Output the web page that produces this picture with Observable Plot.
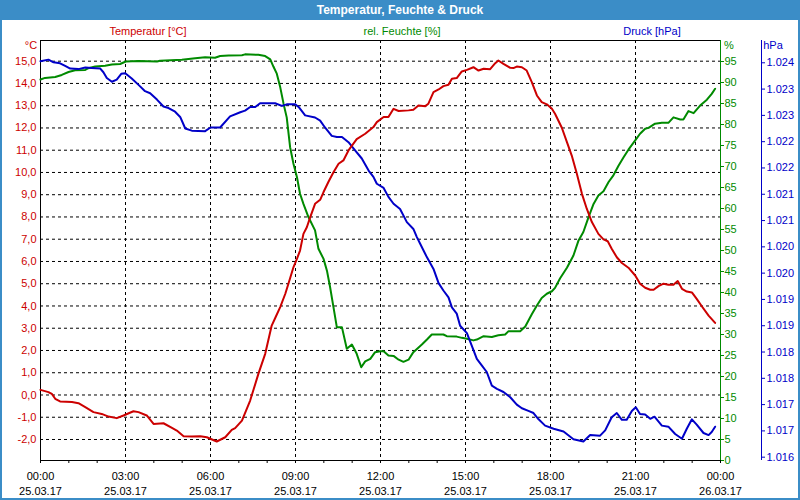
<!DOCTYPE html>
<html><head><meta charset="utf-8">
<script src="https://cdn.jsdelivr.net/npm/d3@7"></script>
<script src="https://cdn.jsdelivr.net/npm/@observablehq/plot@0.6"></script>
<style>
html,body{margin:0;padding:0;background:#fff;}
#wrap{position:relative;width:800px;height:500px;background:#fff;font-family:"Liberation Sans",Arial,sans-serif;overflow:hidden;}
#title{position:absolute;left:0;top:0;width:800px;height:20px;background:#3b8dc7;color:#fff;font-weight:bold;font-size:12px;text-align:center;line-height:20px;}
#body{position:absolute;left:0;top:20px;width:800px;height:480px;border:2px solid #3b8dc7;border-top:none;box-sizing:border-box;}
#body svg{display:block;}
.lbl{position:absolute;font-size:11px;white-space:nowrap;line-height:1;transform:translate(-50%,-50%);}
</style>
</head><body>
<div id="wrap">
  <div id="title">Temperatur, Feuchte &amp; Druck</div>
  <div id="body"></div>
</div>
<script>
// ---- data (hours since 25.03.17 00:00) ----
const tempHours = [0.00,0.28,0.40,0.52,0.69,1.11,1.34,1.58,1.87,2.16,2.40,2.69,2.93,3.28,3.46,3.75,3.99,4.34,4.64,4.81,5.05,5.34,5.64,5.87,6.22,6.52,6.75,6.87,7.11,7.40,7.69,7.93,8.16,8.28,8.46,8.64,8.75,8.93,9.05,9.16,9.28,9.40,9.52,9.69,9.87,9.99,10.16,10.34,10.52,10.69,10.87,11.16,11.46,11.75,11.87,12.11,12.28,12.46,12.64,12.99,13.16,13.34,13.58,13.69,13.87,14.05,14.22,14.40,14.52,14.69,14.87,15.05,15.28,15.46,15.64,15.87,16.05,16.16,16.34,16.58,16.69,16.81,16.99,17.16,17.34,17.52,17.69,17.87,18.05,18.16,18.40,18.58,18.75,18.93,19.11,19.28,19.46,19.69,19.87,20.02,20.16,20.34,20.52,20.75,20.99,21.16,21.34,21.52,21.64,21.81,21.99,22.16,22.34,22.49,22.64,22.81,22.99,23.16,23.34,23.58,23.81];
const tempValues = [0.23,0.13,0.05,-0.17,-0.29,-0.32,-0.37,-0.55,-0.77,-0.85,-0.97,-1.04,-0.92,-0.73,-0.77,-0.92,-1.30,-1.27,-1.48,-1.60,-1.85,-1.87,-1.85,-1.90,-2.09,-1.90,-1.57,-1.49,-1.15,-0.25,0.95,1.85,3.12,3.45,3.95,4.55,5.00,5.75,6.12,6.49,7.24,7.54,7.99,8.59,8.77,9.12,9.57,10.01,10.39,10.54,10.99,11.50,11.74,12.04,12.26,12.49,12.49,12.86,12.76,12.79,12.82,13.01,12.98,13.09,13.61,13.73,13.88,13.94,14.21,14.24,14.54,14.61,14.73,14.58,14.66,14.64,14.91,15.03,14.88,14.70,14.69,14.76,14.73,14.58,14.06,13.46,13.16,13.06,12.86,12.64,12.01,11.36,10.76,9.94,9.04,8.37,7.77,7.24,6.99,6.91,6.57,6.19,5.93,5.72,5.37,5.00,4.82,4.73,4.73,4.89,5.00,4.95,4.95,5.12,4.77,4.65,4.61,4.32,3.99,3.57,3.24];

const humHours = [0.00,0.16,0.52,0.75,0.99,1.22,1.58,1.69,1.93,2.28,2.52,2.81,3.01,3.46,4.11,4.22,4.99,5.46,5.81,6.16,6.34,6.64,7.11,7.22,7.69,7.93,8.11,8.22,8.34,8.46,8.58,8.69,8.81,8.93,9.05,9.16,9.28,9.46,9.69,9.81,9.99,10.11,10.22,10.34,10.46,10.64,10.81,10.99,11.16,11.32,11.46,11.64,11.81,11.99,12.11,12.28,12.46,12.64,12.81,12.99,13.16,13.46,13.64,13.81,14.22,14.34,14.69,14.87,15.05,15.28,15.40,15.64,15.93,16.16,16.40,16.52,16.93,17.11,17.34,17.52,17.69,17.87,18.05,18.16,18.34,18.58,18.81,18.99,19.16,19.34,19.52,19.69,19.87,20.05,20.22,20.40,20.58,20.75,20.99,21.16,21.34,21.46,21.69,21.93,22.16,22.34,22.58,22.69,22.87,23.05,23.28,23.52,23.69,23.81];
const humValues = [90.7,91.1,91.3,91.8,92.5,92.9,93.0,93.4,93.8,94.0,94.3,94.4,95.0,95.1,95.0,95.2,95.4,95.8,96.0,95.9,96.3,96.4,96.5,96.7,96.6,96.3,95.5,93.8,92.1,88.9,84.9,81.7,74.6,70.6,67.5,63.5,61.1,57.9,54.8,50.4,48.0,45.2,41.3,36.5,31.7,31.7,26.6,27.6,25.4,22.2,23.6,24.2,25.8,26.0,26.0,25.0,24.9,24.0,23.5,24.0,25.8,27.6,28.8,30.0,30.0,29.6,29.5,29.2,29.0,28.6,28.8,29.6,29.4,29.8,30.0,30.8,30.8,31.9,34.8,36.9,38.7,39.7,40.3,41.1,43.4,45.9,48.8,52.4,54.4,57.9,61.1,63.1,64.1,66.3,67.9,70.2,72.2,74.0,76.2,77.8,79.0,79.2,80.2,80.4,80.4,81.7,81.2,81.2,83.2,82.7,84.5,85.9,87.3,88.5];

const presHours = [0.00,0.28,0.46,0.69,0.87,1.05,1.34,1.58,1.81,2.11,2.22,2.34,2.52,2.69,2.85,2.99,3.22,3.46,3.69,3.87,4.11,4.34,4.52,4.75,4.93,5.11,5.34,5.81,6.00,6.34,6.69,7.05,7.22,7.40,7.58,7.75,8.28,8.52,8.69,8.99,9.11,9.34,9.69,9.87,10.04,10.28,10.46,10.64,10.87,11.11,11.34,11.58,11.75,11.87,12.11,12.28,12.46,12.69,12.93,13.16,13.28,13.40,13.64,13.87,14.05,14.22,14.40,14.52,14.69,14.81,15.05,15.22,15.40,15.58,15.75,15.93,16.11,16.34,16.58,16.81,16.99,17.22,17.40,17.58,17.81,18.11,18.46,18.81,19.16,19.40,19.75,19.93,20.16,20.34,20.52,20.69,20.87,21.01,21.16,21.34,21.52,21.67,21.93,22.16,22.40,22.64,22.81,22.99,23.16,23.40,23.58,23.69,23.81];
const presValues = [1023.53,1023.56,1023.51,1023.49,1023.44,1023.39,1023.38,1023.41,1023.40,1023.39,1023.32,1023.21,1023.14,1023.18,1023.29,1023.30,1023.20,1023.08,1022.96,1022.92,1022.80,1022.67,1022.64,1022.57,1022.47,1022.25,1022.21,1022.20,1022.27,1022.27,1022.48,1022.56,1022.59,1022.66,1022.66,1022.73,1022.73,1022.68,1022.71,1022.71,1022.66,1022.50,1022.46,1022.40,1022.27,1022.11,1022.09,1022.09,1021.99,1021.83,1021.68,1021.45,1021.33,1021.20,1021.12,1020.95,1020.82,1020.72,1020.47,1020.34,1020.19,1020.06,1019.80,1019.58,1019.31,1019.17,1019.04,1018.85,1018.73,1018.50,1018.36,1018.12,1017.87,1017.74,1017.62,1017.36,1017.30,1017.24,1017.14,1017.00,1016.93,1016.88,1016.84,1016.72,1016.60,1016.54,1016.49,1016.34,1016.30,1016.42,1016.41,1016.51,1016.76,1016.84,1016.71,1016.71,1016.88,1016.95,1016.82,1016.81,1016.73,1016.77,1016.60,1016.58,1016.44,1016.35,1016.54,1016.72,1016.62,1016.46,1016.42,1016.48,1016.58];

// ---- ticks & labels ----
const xLabelHours = [0,3,6,9,12,15,18,21,24];
const xTimeLabels = ["00:00","03:00","06:00","09:00","12:00","15:00","18:00","21:00","00:00"];
const xDateLabels = ["25.03.17","25.03.17","25.03.17","25.03.17","25.03.17","25.03.17","25.03.17","25.03.17","26.03.17"];
const xMinorHours = [0,1,2,3,4,5,6,7,8,9,10,11,12,13,14,15,16,17,18,19,20,21,22,23,24];
const xGridHours = [3,6,9,12,15,18,21];
const tempTicks = [-2,-1,0,1,2,3,4,5,6,7,8,9,10,11,12,13,14,15];
const tempTickLabels = ["-2,0","-1,0","0,0","1,0","2,0","3,0","4,0","5,0","6,0","7,0","8,0","9,0","10,0","11,0","12,0","13,0","14,0","15,0"];
const humTicks = [0,5,10,15,20,25,30,35,40,45,50,55,60,65,70,75,80,85,90,95];
const humTickLabels = ["0","5","10","15","20","25","30","35","40","45","50","55","60","65","70","75","80","85","90","95"];
const presTicks = [1016,1016.5,1017,1017.5,1018,1018.5,1019,1019.5,1020,1020.5,1021,1021.5,1022,1022.5,1023,1023.5];
const presTickLabels = ["1.016","1.017","1.017","1.018","1.018","1.019","1.019","1.020","1.020","1.021","1.021","1.022","1.022","1.023","1.023","1.024"];

// ---- scales (three y axes sharing one plot frame) ----
const T0 = -2.944, T1 = 15.93;       // temperature domain (°C)
const H0 = 0, H1 = 100;              // humidity domain (%)
const P0 = 1015.937, P1 = 1023.924;  // pressure domain (hPa)
const hToT = h => T0 + (h - H0) / (H1 - H0) * (T1 - T0);
const pToT = p => T0 + (p - P0) / (P1 - P0) * (T1 - T0);

const RED = "#cc0000", GREEN = "#008a00", BLUE = "#0000c8";

const tempData = tempHours.map((h, i) => ({h, v: tempValues[i]}));
const humData = humHours.map((h, i) => ({h, v: humValues[i]}));
const presData = presHours.map((h, i) => ({h, v: presValues[i]}));

const tempLabelMap = new Map(tempTicks.map((t, i) => [t, tempTickLabels[i]]));
const humT = humTicks.map(hToT);
const humLabelMap = new Map(humT.map((t, i) => [t, humTickLabels[i]]));
const presT = presTicks.map(pToT);
const presLabelMap = new Map(presT.map((t, i) => [t, presTickLabels[i]]));
const xLabelMap = new Map(xLabelHours.map((h, i) => [h, xTimeLabels[i] + "\n" + xDateLabels[i]]));

const chart = Plot.plot({
  width: 796, height: 478,
  marginLeft: 38, marginRight: 78, marginTop: 20, marginBottom: 38,
  style: {fontFamily: '"Liberation Sans", Arial, sans-serif', fontSize: "11px", background: "transparent", overflow: "visible"},
  x: {domain: [0, 24], axis: null},
  y: {domain: [T0, T1], axis: null},
  marks: [
    Plot.ruleY(tempTicks, {stroke: "#000", strokeDasharray: "3,3"}),
    Plot.ruleX(xGridHours, {stroke: "#000", strokeDasharray: "3,3"}),
    Plot.frame({stroke: "#000"}),
    Plot.ruleX([24], {stroke: GREEN}),
    Plot.ruleX([24], {stroke: BLUE, dx: 41}),
    Plot.axisY(tempTicks, {anchor: "left", tickSize: 0, tickPadding: 4, color: RED, tickFormat: d => tempLabelMap.get(d), label: null}),
    Plot.axisY(humT, {anchor: "right", tickSize: 3, tickPadding: 1, color: GREEN, tickFormat: d => humLabelMap.get(d), label: null}),
    Plot.axisY(presT, {anchor: "right", dx: 41, tickSize: 3, tickPadding: 2, color: BLUE, tickFormat: d => presLabelMap.get(d), label: null}),
    Plot.axisX(xMinorHours, {anchor: "bottom", tickSize: 3, tickFormat: () => "", label: null}),
    Plot.axisX(xLabelHours, {anchor: "bottom", tickSize: 3, tickPadding: 6, lineHeight: 1.36, fill: "#000", tickFormat: d => xLabelMap.get(d), label: null}),
    Plot.line(humData, {x: "h", y: d => hToT(d.v), stroke: GREEN, strokeWidth: 2}),
    Plot.line(presData, {x: "h", y: d => pToT(d.v), stroke: BLUE, strokeWidth: 2}),
    Plot.line(tempData, {x: "h", y: "v", stroke: RED, strokeWidth: 2})
  ]
});
document.getElementById("body").appendChild(chart);

// headers and unit labels
const labels = [
  {text: "Temperatur [°C]", x: 148, y: 31, color: RED},
  {text: "rel. Feuchte [%]", x: 402, y: 31, color: GREEN},
  {text: "Druck [hPa]", x: 652, y: 31, color: BLUE},
  {text: "°C", x: 31, y: 45, color: RED},
  {text: "%", x: 729, y: 45, color: GREEN},
  {text: "hPa", x: 773, y: 45, color: BLUE}
];
const wrap = document.getElementById("wrap");
for (const l of labels) {
  const s = document.createElement("span");
  s.className = "lbl";
  s.textContent = l.text;
  s.style.left = l.x + "px";
  s.style.top = l.y + "px";
  s.style.color = l.color;
  wrap.appendChild(s);
}
</script>
</body></html>
